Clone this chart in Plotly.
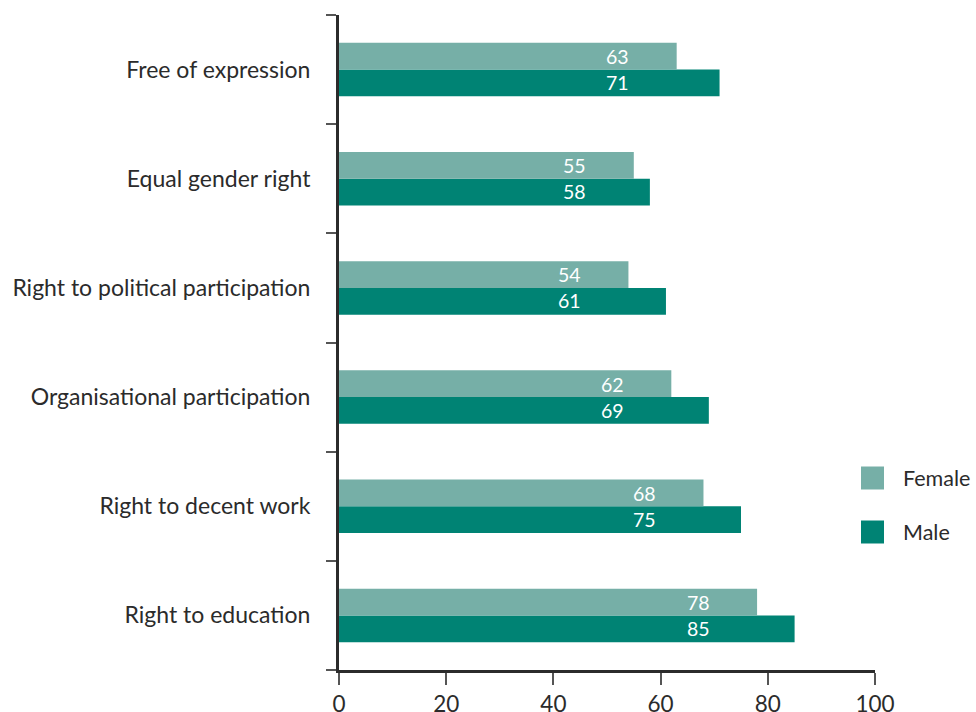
import plotly.graph_objects as go

categories = ["Right to education", "Right to decent work", "Organisational participation",
              "Right to political participation", "Equal gender right", "Free of expression"]
female = [78, 68, 62, 54, 55, 63]
male = [85, 75, 69, 61, 58, 71]
x_ticks = [0, 20, 40, 60, 80, 100]

FEMALE_C = "#76AFA7"
MALE_C = "#008374"
AXIS_C = "#2b2b2b"
FONT = "Lato"

fig = go.Figure()
fig.add_trace(go.Bar(y=categories, x=male, orientation="h", name="Male",
                     marker=dict(color=MALE_C, line=dict(width=0)), showlegend=False))
fig.add_trace(go.Bar(y=categories, x=female, orientation="h", name="Female",
                     marker=dict(color=FEMALE_C, line=dict(width=0)), showlegend=False))

annotations = []
for c, f, m in zip(categories, female, male):
    lx = f - 11
    annotations.append(dict(x=lx, y=c, xref="x", yref="y", text=str(f), showarrow=False,
                            yshift=13, font=dict(color="white", size=19.5, family=FONT)))
    annotations.append(dict(x=lx, y=c, xref="x", yref="y", text=str(m), showarrow=False,
                            yshift=-13, font=dict(color="white", size=19.5, family=FONT)))

# manual legend
legend_items = [("Female", FEMALE_C, 478), ("Male", MALE_C, 532)]
shapes = []
for name, col, py in legend_items:
    yp = 1 - (py - 15) / 655
    shapes.append(dict(type="rect", xref="paper", yref="paper",
                       x0=(861 - 339) / 536, x1=(884 - 339) / 536,
                       y0=yp - 11.5 / 655, y1=yp + 11.5 / 655,
                       fillcolor=col, line=dict(width=0)))
    annotations.append(dict(x=(901 - 339) / 536, y=yp, xref="paper", yref="paper",
                            text=name, showarrow=False, xanchor="left", yanchor="middle",
                            font=dict(size=21.5, color=AXIS_C, family=FONT)))

fig.update_layout(
    width=976, height=712,
    margin=dict(l=339, r=101, t=15, b=42, autoexpand=False),
    paper_bgcolor="white", plot_bgcolor="white",
    barmode="group", bargap=0.51, bargroupgap=0,
    font=dict(family=FONT, size=21, color=AXIS_C),
    annotations=annotations, shapes=shapes,
    xaxis=dict(range=[0, 100], tickvals=x_ticks, ticks="outside", ticklen=12, tickwidth=2,
               tickcolor="#555", showline=True, linecolor=AXIS_C, linewidth=3,
               showgrid=False, zeroline=False, automargin=False, ticklabelstandoff=0,
               tickfont=dict(size=22.5, color=AXIS_C)),
    yaxis=dict(categoryorder="array", categoryarray=categories, tickson="boundaries",
               ticks="outside", ticklen=10, tickwidth=2, tickcolor="#555",
               showline=True, linecolor=AXIS_C, linewidth=3, showgrid=False,
               automargin=False, ticklabelstandoff=21,
               tickfont=dict(size=23, color=AXIS_C)),
)

fig.write_html("out.html", config={"displayModeBar": False},
               post_script="document.body.style.margin='0';document.body.style.overflow='hidden';")
